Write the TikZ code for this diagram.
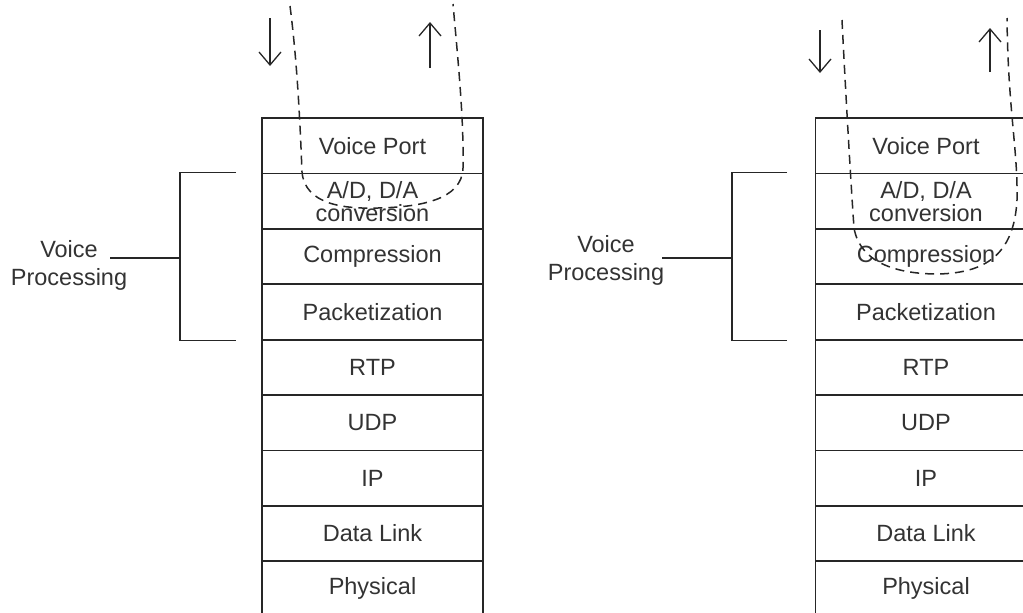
\documentclass[tikz,border=0pt]{standalone}
\usepackage{fontspec}
\setsansfont{Liberation Sans}
\usetikzlibrary{arrows.meta}
\begin{document}
\begin{tikzpicture}[x=1pt, y=-1pt, font=\sffamily\fontsize{23.5}{23}\selectfont, line width=1.8pt, draw=black!85,
		layer/.style={draw, minimum width=221pt, minimum height=55.4pt, inner sep=0pt, align=center, text=black!80},
		label/.style={align=center, text=black!80, font=\sffamily\fontsize{23.5}{28}\selectfont},
		flow/.style={dash pattern=on 9pt off 6pt, line width=1.5pt},
		dir/.style={-{Straight Barb[length=13pt,width=22pt]}, line width=1.3pt}]
	\useasboundingbox (0,0) rectangle (1023,613);
	\clip (0,0) rectangle (1023,613);
	% the two stacks
	\foreach \t [count=\i] in {Voice Port, {A/D, D/A\\conversion}, Compression, Packetization, RTP, UDP, IP, Data Link, Physical} {
		\node[layer] (L\i) at (372.5, 90.3+55.4*\i) {\t};
		\node[layer] (R\i) at (926, 90.3+55.4*\i) {\t};
	}
	% voice processing brackets
	\node[label] (vpL) at (69, 265) {Voice\\Processing};
	\node[label] (vpR) at (606, 260) {Voice\\Processing};
	\coordinate (bL) at (180, 258); \coordinate (bR) at (732, 258);
	\coordinate (tL) at (236, 0 |- L2.north); \coordinate (tR) at (787, 0 |- R2.north);
	\coordinate (dL) at (236, 0 |- L4.south); \coordinate (dR) at (787, 0 |- R4.south);
	\draw (tL) -| (bL) |- (dL) (110, 258) -- (bL);
	\draw (tR) -| (bR) |- (dR) (662, 258) -- (bR);
	% direction arrows
	\coordinate (inL) at (270, 18); \coordinate (outL) at (430, 68);
	\coordinate (inR) at (820, 30); \coordinate (outR) at (990, 72);
	\draw[dir] (inL) -- ++(0, 48);
	\draw[dir] (outL) -- ++(0, -46);
	\draw[dir] (inR) -- ++(0, 43);
	\draw[dir] (outR) -- ++(0, -44);
	% voice path, turning at the A/D layer (left) and at compression (right)
	\draw[flow] (290, 6) .. controls (297, 60) and (300, 120) .. (302, 172)
		.. controls (305, 205) and (345, 209) .. (378, 208)
		.. controls (420, 207) and (462, 200) .. (463, 168)
		.. controls (464, 120) and (458, 60) .. (453, 4);
	\draw[flow] (842, 20) .. controls (845, 80) and (850, 170) .. (854, 228)
		.. controls (860, 262) and (895, 274) .. (938, 274)
		.. controls (985, 273) and (1014, 255) .. (1017, 200)
		.. controls (1018, 150) and (1008, 110) .. (1007, 18);
\end{tikzpicture}
\end{document}
